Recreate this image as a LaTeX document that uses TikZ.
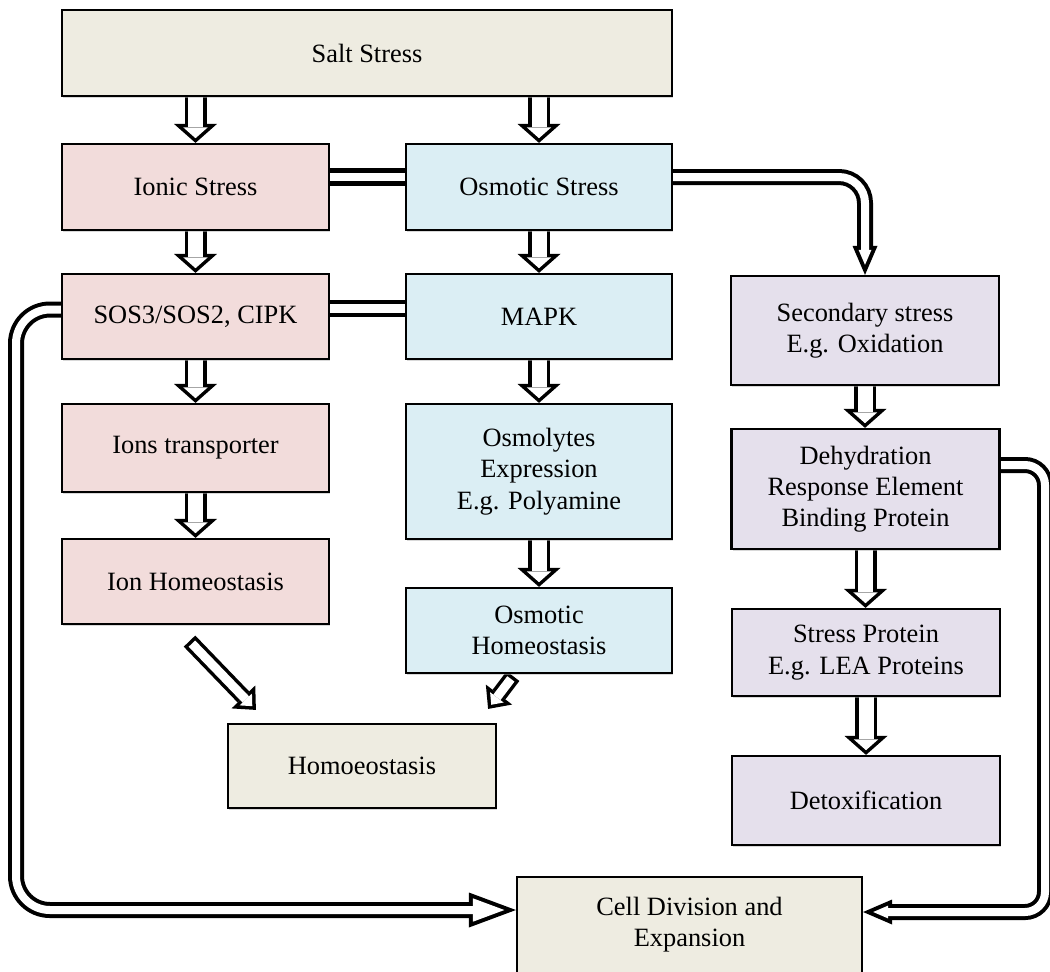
\documentclass[tikz,border=0pt]{standalone}
\usepackage{fontspec}
\setmainfont{Liberation Serif}
\usetikzlibrary{arrows.meta,calc,shadows,backgrounds}
\definecolor{saltcol}{HTML}{EEECE1}
\definecolor{ioncol}{HTML}{F2DCDB}
\definecolor{osmcol}{HTML}{DBEEF4}
\definecolor{seccol}{HTML}{E5E0EC}
\begin{document}
\begin{tikzpicture}[x=0.5pt,y=-0.5pt,
  box/.style={draw, line width=1.1pt, align=center, inner sep=2pt,
    font=\fontsize{13.2}{15.6}\selectfont,
    drop shadow={shadow xshift=0.7pt, shadow yshift=-1pt, fill=black!30, opacity=.5}},
  saltbox/.style={box, fill=saltcol},
  ionbox/.style={box, fill=ioncol, minimum width=133.5pt},
  osmbox/.style={box, fill=osmcol, minimum width=133pt},
  secbox/.style={box, fill=seccol, minimum width=134pt},
  hollow/.style n args={8}{
    preaction={draw=black, line width=#1, shorten >=0pt, shorten <=0pt,
      -{Triangle[length=#3, width=#4, line width=0pt]}},
    draw=white, line width=#2, shorten >=#7, shorten <=#8,
    -{Triangle[length=#5, width=#6, line width=0pt]}},
  varrow/.style={hollow={11pt}{7.5pt}{9.5pt}{21.5pt}{5.4pt}{12.2pt}{2.35pt}{0pt}},
  darrow/.style={hollow={8pt}{4.5pt}{9pt}{16.5pt}{4.65pt}{8.5pt}{2.6pt}{1.75pt}},
  bigloop/.style={hollow={8pt}{4pt}{23.5pt}{17.5pt}{15.75pt}{11.7pt}{5.75pt}{0pt}},
  smallloop/.style={hollow={8pt}{4pt}{14.5pt}{12.5pt}{7.45pt}{6.4pt}{5.05pt}{0pt}},
  dline/.style={double, double distance=4.2pt, line width=2.2pt}]

  \useasboundingbox (0,0) rectangle (1050,971);

  \node[saltbox, minimum width=305pt, minimum height=43pt] (salt) at (367,53) {Salt Stress};
  \node[ionbox, minimum height=43pt] (ionic) at (195.5,187) {Ionic Stress};
  \node[osmbox, minimum height=43pt] (osmo) at (539,187) {Osmotic Stress};
  \node[ionbox, minimum height=42.5pt] (sos) at (195.5,316.5) {SOS3/SOS2, CIPK};
  \node[osmbox, minimum height=42.5pt] (mapk) at (539,316.5) {MAPK};
  \node[secbox, minimum height=54.5pt] (secst) at (865,330.5) {Secondary stress\\E.g. Oxidation};
  \node[ionbox, minimum height=44pt] (iont) at (195.5,448) {Ions transporter};
  \node[osmbox, minimum height=67.5pt] (osml) at (539,471.5) {Osmolytes\\Expression\\E.g. Polyamine};
  \node[secbox, minimum height=60pt] (dehyd) at (865.5,489) {Dehydration\\Response Element\\Binding Protein};
  \node[ionbox, minimum height=42.5pt] (ionh) at (195.5,581.5) {Ion Homeostasis};
  \node[osmbox, minimum height=42.5pt] (osmh) at (539,630.5) {Osmotic\\Homeostasis};
  \node[secbox, minimum height=43.5pt] (strp) at (866,652.5) {Stress Protein\\E.g. LEA Proteins};
  \node[saltbox, minimum width=134pt, minimum height=42pt] (homeo) at (362,766) {Homoeostasis};
  \node[secbox, minimum height=44.5pt] (detox) at (866,800.5) {Detoxification};
  \node[saltbox, minimum width=172.5pt, minimum height=48pt] (cell) at (689.5,925) {Cell Division and\\Expansion};

  \begin{pgfonlayer}{background}
  \draw[varrow] (salt.south -| ionic.north) -- (ionic.north);
  \draw[varrow] (salt.south -| osmo.north) -- (osmo.north);
  \draw[varrow] (ionic.south) -- (sos.north);
  \draw[varrow] (osmo.south) -- (mapk.north);
  \draw[varrow] (sos.south) -- (iont.north);
  \draw[varrow] (iont.south) -- (ionh.north);
  \draw[varrow] (mapk.south) -- (osml.north);
  \draw[varrow] (osml.south) -- (osmh.north);
  \draw[varrow] (secst.south) -- (secst.south |- dehyd.north);
  \draw[varrow] (dehyd.south) -- (dehyd.south |- strp.north);
  \draw[varrow] (strp.south) -- (strp.south |- detox.north);
  \draw[darrow] ($(ionh.south)+(-6,16)$) -- ($(homeo.north west)+(29,-13)$);
  \draw[darrow] ($(osmh.south)+(-26,2)$) -- ($(homeo.north east)+(-9,-14)$);
  \draw[dline] ($(ionic.east)+(0,-10)$) -- ($(osmo.west)+(0,-10)$);
  \draw[dline] ($(sos.east)+(0,-8)$) -- ($(mapk.west)+(0,-8)$);
  \draw[smallloop, rounded corners=13pt] ($(osmo.east)+(0,-10)$) -| (secst.north);
  \draw[bigloop, rounded corners=17pt] ($(sos.west)+(0,-7)$) -| (16,600) |- ($(cell.west)+(0,-15)$);
  \draw[smallloop, rounded corners=10pt] ($(dehyd.east)+(0,-24)$) -| (1045,700) |- ($(cell.east)+(0,-13)$);
  \end{pgfonlayer}
\end{tikzpicture}
\end{document}
